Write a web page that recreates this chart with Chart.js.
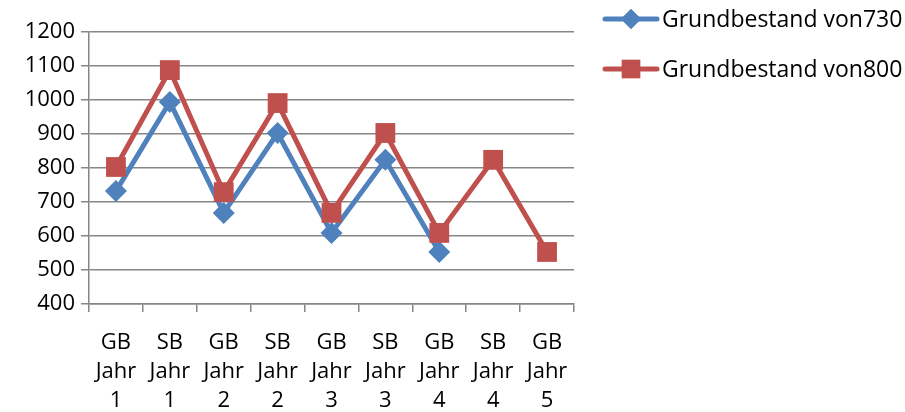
<!DOCTYPE html>
<html>
<head>
<meta charset="utf-8">
<script src="https://cdn.jsdelivr.net/npm/chart.js@4"></script>
<style>
  html, body { margin: 0; padding: 0; background: #fff; }
  #wrap { width: 905px; height: 412px; }
</style>
</head>
<body>
<div id="wrap"><canvas id="chart" width="905" height="412"></canvas></div>
<script>
const categories = [
  ['GB', 'Jahr', '1'], ['SB', 'Jahr', '1'], ['GB', 'Jahr', '2'],
  ['SB', 'Jahr', '2'], ['GB', 'Jahr', '3'], ['SB', 'Jahr', '3'],
  ['GB', 'Jahr', '4'], ['SB', 'Jahr', '4'], ['GB', 'Jahr', '5']
]
const bestand730 = [732, 994, 668, 903, 609, 824, 553, null, null]
const bestand800 = [803, 1088, 729, 991, 668, 903, 609, 824, 553]
const seriesNames = ['Grundbestand von730', 'Grundbestand von800']

const BLUE = '#4F81BD'
const RED = '#C0504D'
const GRID = '#868686'
const FONT = '"Open Sans", Lato, sans-serif'

// legend drawn by hand: line with marker in the middle, like the office style
const sideLegend = {
  id: 'sideLegend',
  afterDraw(chart) {
    const ctx = chart.ctx
    const rows = [
      {name: seriesNames[0], color: BLUE, style: 'rectRot', r: 10, y: 19},
      {name: seriesNames[1], color: RED, style: 'rect', r: 13, y: 69}
    ]
    ctx.save()
    rows.forEach(row => {
      ctx.strokeStyle = row.color
      ctx.lineWidth = 5
      ctx.lineCap = 'round'
      ctx.beginPath()
      ctx.moveTo(605, row.y)
      ctx.lineTo(657, row.y)
      ctx.stroke()
      ctx.fillStyle = row.color
      Chart.helpers.drawPoint(ctx, {pointStyle: row.style, radius: row.r, borderWidth: 0}, 631, row.y)
      ctx.fill()
      ctx.fillStyle = '#000'
      ctx.font = '23px ' + FONT
      ctx.textBaseline = 'middle'
      ctx.fillText(row.name, 662, row.y + 1, 242)
    })
    ctx.restore()
  }
}

new Chart(document.getElementById('chart'), {
  type: 'line',
  data: {
    labels: categories,
    datasets: [{
      label: seriesNames[0],
      data: bestand730,
      borderColor: BLUE,
      backgroundColor: BLUE,
      borderWidth: 5,
      pointStyle: 'rectRot',
      pointRadius: 11,
      pointBorderWidth: 0,
      tension: 0,
      order: 2
    }, {
      label: seriesNames[1],
      data: bestand800,
      borderColor: RED,
      backgroundColor: RED,
      borderWidth: 5,
      pointStyle: 'rect',
      pointRadius: 14,
      pointBorderWidth: 0,
      tension: 0,
      order: 1
    }]
  },
  options: {
    responsive: false,
    animation: false,
    layout: {padding: {top: 32, right: 331, left: 0, bottom: 0}},
    plugins: {legend: {display: false}, tooltip: {enabled: false}},
    scales: {
      x: {
        offset: true,
        grid: {display: true, offset: true, drawOnChartArea: false, color: GRID, lineWidth: 1.5, tickLength: 8},
        border: {color: GRID, width: 1.5},
        ticks: {color: '#000', font: {family: FONT, size: 22, lineHeight: 1.32}, maxRotation: 0, autoSkip: false, padding: 16},
        afterFit: s => { s.height = 108 }
      },
      y: {
        min: 400,
        max: 1200,
        grid: {color: GRID, lineWidth: 1.5, tickLength: 8},
        border: {color: GRID, width: 1.5},
        ticks: {stepSize: 100, color: '#000', font: {family: FONT, size: 22}, padding: 6, callback: v => String(v)},
        afterFit: s => { s.width = 89 }
      }
    }
  },
  plugins: [sideLegend]
})
</script>
</body>
</html>
